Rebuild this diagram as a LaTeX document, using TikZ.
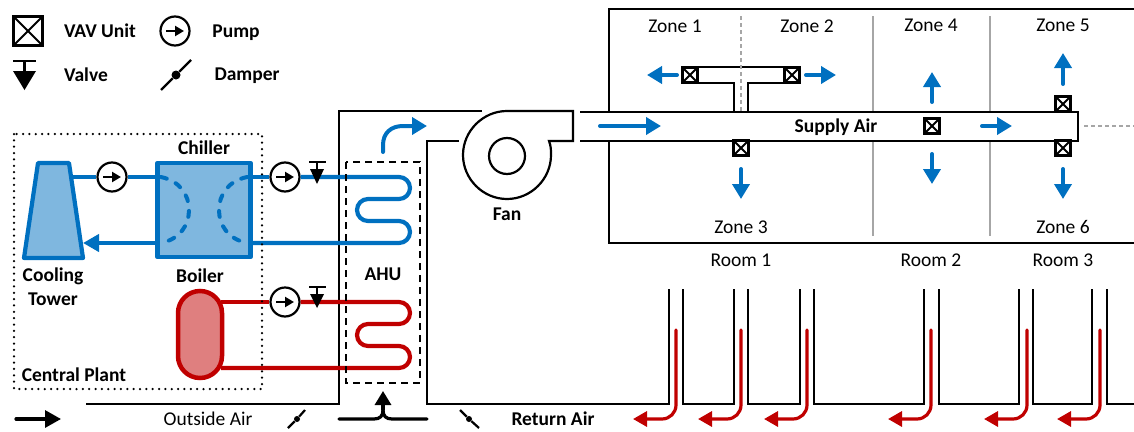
\documentclass[tikz,border=0pt]{standalone}
\usepackage{fontspec}
\setmainfont{Carlito}
\usetikzlibrary{arrows.meta}
\definecolor{cblue}{HTML}{0070C0}
\definecolor{cbluefill}{HTML}{7FB7DF}
\definecolor{cred}{HTML}{C00000}
\definecolor{credfill}{HTML}{DF7F7F}
\definecolor{cgray}{HTML}{A6A6A6}
\tikzset{
  x=1pt,y=-1pt,
  lbl/.style={inner sep=0pt,font=\fontsize{19.5}{21}\selectfont},
  blbl/.style={inner sep=0pt,font=\fontsize{19.5}{21}\selectfont\bfseries},
  duct/.style={line width=2.2pt,black},
  pipeb/.style={line width=4.2pt,cblue},
  piper/.style={line width=4.2pt,cred},
  flowb/.style={line width=4pt,cblue,line cap=round,-{Triangle[length=15pt,width=17pt]}},
  flowr/.style={line width=3.2pt,cred,line cap=round,rounded corners=14pt,-{Triangle[length=14pt,width=15pt]}},
  flowk/.style={line width=3.2pt,black,line cap=round,-{Triangle[length=16pt,width=17pt]}},
  pumpsym/.style={circle,draw=black,fill=white,line width=2.2pt,inner sep=0pt,minimum size=29pt,
    path picture={\draw[line width=2.2pt,-{Triangle[length=9pt,width=10pt]}]
      ([xshift=-9pt]path picture bounding box.center) -- ([xshift=9pt]path picture bounding box.center);}},
  vavsym/.style={rectangle,draw=black,fill=white,line width=2.6pt,inner sep=0pt,minimum size=14.5pt,
    path picture={\draw[line width=1.8pt]
      (path picture bounding box.north west) -- (path picture bounding box.south east)
      (path picture bounding box.north east) -- (path picture bounding box.south west);}},
  vavbig/.style={vavsym,minimum size=29pt,line width=2.4pt},
  pivot/.style={circle,fill=black,inner sep=0pt,minimum size=#1},
  vbar/.style={line width=2.2pt,black},
}
\begin{document}
\begin{tikzpicture}
\useasboundingbox (0,0) rectangle (1134,431);
% ---------- zone box ----------
\draw[duct] (1134,9) -- (609,9) -- (609,243) -- (1134,243);
\draw[line width=2pt,cgray] (873,16) -- (873,236);
\draw[line width=2pt,cgray] (990,16) -- (990,236);
% branch
\draw[duct,fill=white] (734,112) -- (734,83) -- (683,83) -- (683,67) -- (800,67) -- (800,83) -- (748,83) -- (748,112);
\draw[line width=2pt,cgray,dash pattern=on 4pt off 3pt] (741,16) -- (741,112);
\draw[line width=2pt,cgray,dash pattern=on 4pt off 3pt] (1084,126) -- (1134,126);
% main duct
\fill[white] (580,112) rectangle (1078,141);
\draw[duct] (580,112) -- (1078,112) -- (1078,141) -- (580,141);
% VAV units
\node[vavbig] (lgvav) at (28,31) {};
\node[vavsym] (v1) at (690,75) {};
\node[vavsym] (v2) at (792,75) {};
\node[vavsym] (v3) at (741,148) {};
\node[vavsym] (v4) at (932,126) {};
\node[vavsym] (v5) at (1063,104) {};
\node[vavsym] (v6) at (1063,148) {};
% zone flow arrows
\coordinate (a1s) at (677,75); \coordinate (a1e) at (647,75);
\coordinate (a2s) at (806,75); \coordinate (a2e) at (836,75);
\coordinate (a3s) at (741,169); \coordinate (a3e) at (741,199);
\coordinate (a4s) at (932,102); \coordinate (a4e) at (932,72);
\coordinate (a5s) at (932,154); \coordinate (a5e) at (932,184);
\coordinate (a6s) at (1063,84); \coordinate (a6e) at (1063,53);
\coordinate (a7s) at (1063,169); \coordinate (a7e) at (1063,199);
\coordinate (a8s) at (982,126); \coordinate (a8e) at (1012,126);
\coordinate (a9s) at (600,126); \coordinate (a9e) at (661,126);
\foreach \n in {1,...,9} \draw[flowb] (a\n s) -- (a\n e);
% ---------- air duct and fan ----------
\draw[duct,line join=miter] (86,404) -- (339,404) -- (339,111) -- (482,111);
\draw[duct] (459,141) -- (427,141) -- (427,404) -- (669,404) -- (669,289);
\draw[duct] (683,289) -- (683,404) -- (734,404) -- (734,289);
\draw[duct] (748,289) -- (748,404) -- (800,404) -- (800,289);
\draw[duct] (814,289) -- (814,404) -- (924,404) -- (924,289);
\draw[duct] (939,289) -- (939,404) -- (1019,404) -- (1019,289);
\draw[duct] (1033,289) -- (1033,404) -- (1092,404) -- (1092,289);
\draw[duct] (1107,289) -- (1107,404) -- (1134,404);
\draw[duct] (549,141) .. controls (551,146) and (551,150) .. (551,155)
  .. controls (551,179) and (531,199) .. (507,199)
  .. controls (483,199) and (463,179) .. (463,155)
  .. controls (463,131) and (483,111) .. (507,111)
  -- (573,111) -- (573,141) -- cycle;
\node[circle,draw=black,line width=2.2pt,minimum size=36pt,inner sep=0pt] (fanhub) at (507,156) {};
% ---------- pumps ----------
\node[pumpsym] (lgpump) at (175,31) {};
\node[pumpsym] (pt) at (112,177) {};
\node[pumpsym] (pc) at (285,177) {};
\node[pumpsym] (ph) at (285,302) {};
% ---------- cooling tower, chiller, boiler ----------
\draw[line width=4.2pt,cblue,fill=cbluefill,line join=round] (38,163) -- (69,163) -- (83,258) -- (24,258) -- cycle;
\node[rectangle,draw=cblue,fill=cbluefill,line width=4.5pt,line join=round,minimum width=93pt,minimum height=94pt,inner sep=0pt] (chiller) at (204,210) {};
\node[rectangle,rounded corners=22pt,draw=cred,fill=credfill,line width=4.5pt,minimum width=44pt,minimum height=87pt,inner sep=0pt] (boiler) at (200,334.5) {};
\coordinate (tw1) at (71,177);
\coordinate (tw2) at (83,243);
\coordinate (ch1) at (156,177);
\coordinate (ch2) at (156,243);
\coordinate (ch3) at (252,177);
\coordinate (ch4) at (252,243);
\coordinate (bo1) at (221,302);
\coordinate (bo2) at (221,368);
\draw[pipeb] (tw1) -- (pt);
\draw[pipeb] (pt) -- (ch1);
\draw[line width=4.2pt,cblue,-{Triangle[length=16pt,width=17pt]}] (ch2) -- (tw2);
\draw[pipeb] (ch3) -- (pc);
\draw[pipeb,rounded corners=11pt] (pc) -- (410,177) -- (410,199) -- (357,199) -- (357,221) -- (410,221) -- (410,243) -- (ch4);
\draw[piper] (bo1) -- (ph);
\draw[piper,rounded corners=11pt] (ph) -- (410,302) -- (410,324) -- (357,324) -- (357,346) -- (410,346) -- (410,368) -- (bo2);
\draw[line width=4pt,cblue,line cap=round,dash pattern=on 6pt off 10pt] (161,177) .. controls (180,181) and (189,195) .. (189,210) .. controls (189,225) and (180,239) .. (161,243);
\draw[line width=4pt,cblue,line cap=round,dash pattern=on 6pt off 10pt] (247,177) .. controls (228,181) and (219,195) .. (219,210) .. controls (219,225) and (228,239) .. (247,243);
% central plant, AHU
\draw[black,line width=2.5pt,line cap=round,dash pattern=on 0pt off 6.35pt] (14,134) rectangle (262,389);
\draw[black,line width=2.4pt,dash pattern=on 7pt off 5pt] (346,162) rectangle (420,383);
% ---------- valves ----------
\draw[vbar] (13,61) -- (36,61); \draw[vbar] (24.5,61) -- (24.5,72);
\fill[black] (13,71) -- (36,71) -- (24.5,90) -- cycle;
\draw[vbar] (309,162) -- (326,162); \draw[vbar] (317,162) -- (317,170);
\fill[black] (310,169) -- (324,169) -- (317,184) -- cycle;
\draw[vbar] (309,287) -- (326,287); \draw[vbar] (317,287) -- (317,295);
\fill[black] (310,294) -- (324,294) -- (317,308) -- cycle;
% ---------- dampers ----------
\node[pivot=9pt] (d0) at (176,75) {};
\coordinate (d0a) at (161,90); \coordinate (d0b) at (191,60);
\draw[line width=2.2pt] (d0a) -- (d0) -- (d0b);
\node[pivot=6pt] (d1) at (297,419) {};
\coordinate (d1a) at (288,428); \coordinate (d1b) at (305,410);
\draw[line width=2.2pt] (d1a) -- (d1) -- (d1b);
\node[pivot=6pt] (d2) at (469,419) {};
\coordinate (d2a) at (460,410); \coordinate (d2b) at (479,428);
\draw[line width=2.2pt] (d2a) -- (d2) -- (d2b);
% ---------- flow arrows ----------
\draw[line width=4pt,cblue,line cap=round,-{Triangle[length=15pt,width=17pt]}]
  (383,152) -- (383,145) .. controls (383,133) and (391,126) .. (403,126) -- (427,126);
\coordinate (oa1) at (16,419); \coordinate (oa2) at (61,419);
\draw[flowk] (oa1) -- (oa2);
\coordinate (ra1) at (339,419); \coordinate (ra2) at (427,419); \coordinate (ra3) at (383,391);
\draw[line width=3.2pt,line cap=round] (ra1) -- (374,419) .. controls (380,419) and (383,416) .. (383,410);
\draw[line width=3.2pt,line cap=round] (ra2) -- (392,419) .. controls (386,419) and (383,416) .. (383,410);
\draw[line width=3.2pt,-{Triangle[length=14pt,width=16pt]}] (383,410) -- (ra3);
\foreach \x/\t in {676/633,741/698,807/764,931/888,1027/984,1100/1057}
  \draw[flowr] (\x,330) -- (\x,419) -- (\t,419);
% ---------- text ----------
\node[blbl] (t1) at (100,31) {VAV Unit};
\node[blbl] (t2) at (236,32.5) {Pump};
\node[blbl] (t3) at (86,75) {Valve};
\node[blbl] (t4) at (247,76) {Damper};
\node[blbl] (t5) at (204,148) {Chiller};
\node[blbl] (t6) at (200,276) {Boiler};
\node[blbl] (t7) at (53,276) {Cooling};
\node[blbl] (t8) at (53,299) {Tower};
\node[blbl] (t9) at (74,375) {Central Plant};
\node[blbl] (t10) at (383,274) {AHU};
\node[blbl] (t11) at (507,214) {Fan};
\node[blbl] (t12) at (836,127) {Supply Air};
\node[blbl] (t13) at (553,419) {Return Air};
\node[lbl] (t14) at (208,419) {Outside Air};
\node[lbl] (z1) at (675,26) {Zone 1};
\node[lbl] (z2) at (807,26) {Zone 2};
\node[lbl] (z3) at (741,227) {Zone 3};
\node[lbl] (z4) at (931,25) {Zone 4};
\node[lbl] (z5) at (1063,25) {Zone 5};
\node[lbl] (z6) at (1063,227) {Zone 6};
\node[lbl] (r1) at (741,260) {Room 1};
\node[lbl] (r2) at (931,260) {Room 2};
\node[lbl] (r3) at (1063,260) {Room 3};
\end{tikzpicture}
\end{document}
